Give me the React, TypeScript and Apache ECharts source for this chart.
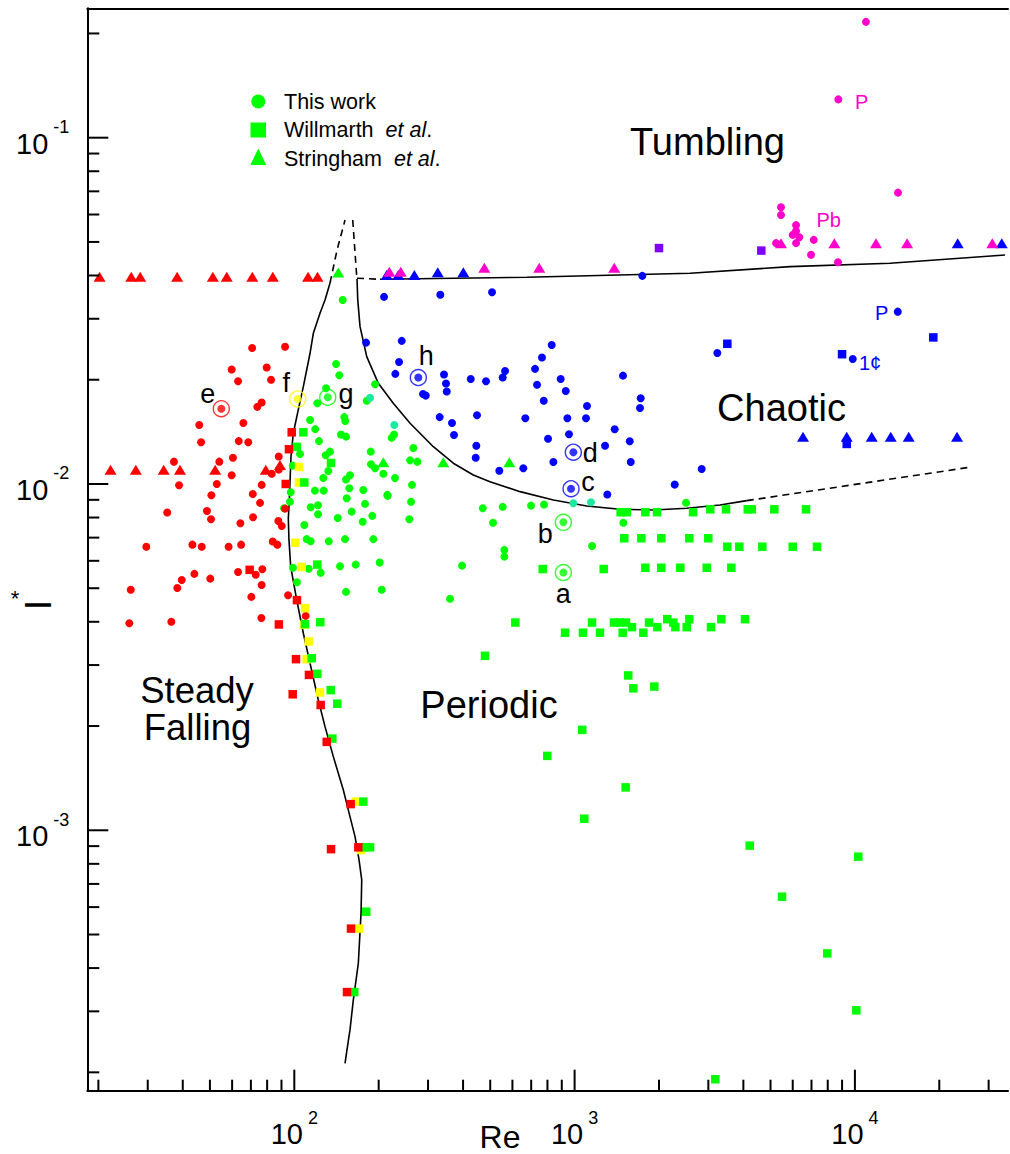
import React, { useEffect, useRef } from 'react';
import * as echarts from 'echarts';

// ---------- axis ranges & ticks ----------
const X_MIN = 18.26;
const X_MAX = 35170;
const Y_MIN = 1.77e-4;
const Y_MAX = 0.2364;

const xMajorTicks = [100, 1000, 10000];
const xMinorTicks = [20, 30, 40, 50, 60, 70, 80, 90, 200, 300, 400, 500, 600, 700, 800, 900,
  2000, 3000, 4000, 5000, 6000, 7000, 8000, 9000, 20000, 30000];
const yMajorTicks = [0.001, 0.01, 0.1];
const yMinorTicks = [2e-4, 3e-4, 4e-4, 5e-4, 6e-4, 7e-4, 8e-4, 9e-4,
  0.002, 0.003, 0.004, 0.005, 0.006, 0.007, 0.008, 0.009,
  0.02, 0.03, 0.04, 0.05, 0.06, 0.07, 0.08, 0.09, 0.2];

// ---------- This work (circles) [Re, I*] ----------
const thisWorkSteady: [number, number][] = [
  [92.7, 0.0249], [79.7, 0.0217], [82.6, 0.02], [76.5, 0.0172], [83.1, 0.0107], [76.5, 0.00994],
  [70.7, 0.0247], [59.8, 0.0214], [63.0, 0.0198], [73.8, 0.0167], [45.8, 0.0148], [65.8, 0.015],
  [46.5, 0.0132], [63.35, 0.0133], [68.5, 0.0132], [60.4, 0.0119], [54.0, 0.0116], [37.2, 0.0116],
  [59.8, 0.0106], [38.8, 0.00992], [52.9, 0.01], [50.6, 0.00928], [71.1, 0.00936], [88.0, 0.011],
  [88.0, 0.012], [75.5, 0.00882], [35.2, 0.00827], [48.8, 0.00836], [50.45, 0.00791], [71.25, 0.00802],
  [64.2, 0.0077], [87.7, 0.00782], [90.2, 0.00756], [92.7, 0.00849], [29.65, 0.00659], [43.3, 0.00668],
  [46.75, 0.00659], [58.3, 0.00659], [64.6, 0.00668], [83.75, 0.00682], [87.0, 0.00668], [63.0, 0.00557],
  [72.85, 0.00547], [76.9, 0.00567], [44.0, 0.0055], [39.67, 0.00528], [50.15, 0.00533], [26.09, 0.00495],
  [38.25, 0.00501], [76.45, 0.00511], [70.26, 0.00472], [95.0, 0.00477], [25.79, 0.00396], [36.41, 0.004],
  [76.3, 0.0041], [109.8, 0.00416],
];
const thisWorkPeriodic: [number, number][] = [
  [140.9, 0.0222], [144.7, 0.0206], [129.8, 0.0189], [120.8, 0.0171], [194.1, 0.0194], [181.3, 0.0174],
  [113.8, 0.0153], [118.8, 0.0144], [150.8, 0.0156], [152, 0.0152], [146.7, 0.0139], [152.9, 0.0137],
  [122.5, 0.0133], [222.6, 0.0136], [226.9, 0.0139], [265.9, 0.0127], [134.1, 0.0124], [129.4, 0.0121],
  [187.3, 0.0124], [258.8, 0.0117], [274.7, 0.0116], [187.8, 0.0114], [194.1, 0.0111], [104.8, 0.0122],
  [98.7, 0.0113], [132.2, 0.0109], [207.8, 0.0107], [228.7, 0.0104], [126.9, 0.0104], [158, 0.0106],
  [152.9, 0.0103], [118.5, 0.00957], [157.1, 0.00972], [263, 0.00994], [214.7, 0.0093], [97.1, 0.00947],
  [148.8, 0.034], [96.5, 0.00889], [91.9, 0.00851], [127.3, 0.00957], [114.4, 0.00857], [121.5, 0.00868],
  [121.5, 0.00818], [142.9, 0.00798], [108.6, 0.00761], [110.7, 0.00693], [114.4, 0.00683], [132.7, 0.00683],
  [98.9, 0.00573], [112.6, 0.00569], [124.2, 0.00554], [102.2, 0.0052], [145.6, 0.00579], [153.8, 0.0091],
  [176.3, 0.00961], [215.4, 0.00924], [260.9, 0.00889], [178.8, 0.00876], [160.2, 0.00832], [175.4, 0.00778],
  [189.8, 0.00809], [257.2, 0.00791], [151.7, 0.00693], [191.4, 0.00693], [165.6, 0.00585], [201.7, 0.00593],
  [152.9, 0.00488], [205, 0.00495], [396.7, 0.00581], [359.4, 0.00466], [470.1, 0.00851], [554, 0.00859],
  [511.7, 0.00773], [699, 0.00866], [778, 0.00872], [561.5, 0.00645], [561.5, 0.00617], [1154, 0.00662],
  [2497, 0.00883], [1492, 0.00773],
];
const thisWorkChaotic: [number, number][] = [
  [209, 0.0347], [331.8, 0.0352], [507.5, 0.0358], [1744, 0.0399], [180.3, 0.0256], [241.7, 0.0259],
  [236.4, 0.0225], [229.3, 0.0208], [342, 0.0207], [347.7, 0.0195], [349.8, 0.0185], [426, 0.0201],
  [287.9, 0.0182], [294.4, 0.018], [330.2, 0.0156], [365.3, 0.015], [371.3, 0.01385], [448.6, 0.0158],
  [446, 0.0129], [443.8, 0.0119], [828.6, 0.0252], [765, 0.0232], [564.7, 0.0212], [554, 0.0203],
  [722.5, 0.0215], [483, 0.0198], [734.5, 0.01935], [892, 0.0201], [930, 0.01856], [776, 0.0174],
  [1488, 0.02055], [3229, 0.0239], [1721, 0.01768], [1711, 0.01658], [1107, 0.0168], [667, 0.01548],
  [942.2, 0.01548], [1098, 0.01548], [1390, 0.01439], [804, 0.01351], [955, 0.01392], [1284, 0.0129],
  [1573, 0.01328], [840, 0.01158], [1586, 0.01158], [656, 0.0111], [538.8, 0.01092], [1308, 0.00932],
  [2276, 0.00996], [2841, 0.01105], [14220, 0.03145], [9824, 0.02296],
];
const thisWorkTumbling: [number, number][] = [
  [10950, 0.216], [8727, 0.129], [14250, 0.0694], [5450, 0.063], [5450, 0.0598], [6166, 0.0559],
  [6166, 0.0538], [6000, 0.0524], [6335, 0.0516], [6166, 0.0496], [7131, 0.0507], [5232, 0.0496],
  [6974, 0.0459], [8705, 0.0437],
];
const thisWorkMixed: [number, number][] = [
  [989.7, 0.0088], [1144, 0.00886], [186.3, 0.01775], [227.4, 0.01481],
];

// ---------- Willmarth et al. (squares) ----------
const willmarthSteady: [number, number][] = [
  [97.9, 0.0141], [95.7, 0.0126], [93.2, 0.01], [69.3, 0.00565], [102.2, 0.00462], [88.1, 0.00393],
  [101.4, 0.00312], [112.8, 0.00281], [98.7, 0.00247], [124.2, 0.0023], [130.5, 0.0018], [158.9, 0.00119],
  [135.2, 0.000882], [169.2, 0.000893], [159.3, 0.00052], [154.2, 0.000341],
];
const willmarthTransition: [number, number][] = [
  [103.9, 0.0112], [103.9, 0.0101], [100.8, 0.00677], [106.3, 0.00576], [109.2, 0.00438], [108.3, 0.00392],
  [112.6, 0.00351], [110.7, 0.00312], [123.5, 0.0025], [166, 0.00121], [173, 0.000877], [170.2, 0.00052],
];
const willmarthPeriodic: [number, number][] = [
  [107.7, 0.0141], [102, 0.0128], [135.2, 0.0115], [108.6, 0.0101], [120.8, 0.00585], [109.2, 0.00394],
  [123.8, 0.00399], [115.4, 0.00314], [120.8, 0.00283], [134.9, 0.00254], [142.3, 0.00232], [136.7, 0.00184],
  [176.3, 0.00121], [178.8, 0.000893], [186.3, 0.000893], [180.6, 0.000582], [163.7, 0.000341],
  [769.6, 0.00568], [1270, 0.00568], [614.6, 0.00398], [924.5, 0.00372], [1071, 0.00372], [1154, 0.00398],
  [1232, 0.00372], [479, 0.00319],
  [1460, 0.00829], [1535, 0.00829], [1788, 0.00829], [1968, 0.00829], [2646, 0.00829],
  [3049, 0.00845], [3469, 0.00845], [4147, 0.00845], [4284, 0.00845], [5159, 0.00845], [6692, 0.00845],
  [1504, 0.00697], [1730, 0.00697], [2038, 0.00697], [2566, 0.00697], [2999, 0.00697],
  [3506, 0.00659], [3869, 0.00659], [4675, 0.00659], [6000, 0.00659], [7325, 0.00659],
  [1788, 0.00573], [2038, 0.00573], [2383, 0.00573], [2960, 0.00573], [3624, 0.00573],
  [1382, 0.00398], [1452, 0.00398], [1525, 0.00398], [1602, 0.00386], [1484, 0.00372], [1759, 0.00372],
  [1843, 0.00398], [1973, 0.00386], [2141, 0.00407], [2250, 0.00398], [2288, 0.00386], [2512, 0.00386],
  [2566, 0.00407], [3066, 0.00386], [3338, 0.00407], [4055, 0.00407],
  [1554, 0.0028], [1620, 0.00257], [1925, 0.0026], [1065, 0.00195], [799, 0.00164], [1521, 0.00133],
  [1083, 0.00108], [4215, 0.000903], [10280, 0.000839], [5495, 0.000643], [7971, 0.000441],
  [10120, 0.000302], [3177, 0.000191],
];
const willmarthChaotic: [number, number][] = [
  [3506, 0.0254], [19040, 0.0265], [8999, 0.0237], [9350, 0.01305],
];
const willmarthTumbling: [number, number][] = [[2000, 0.048], [4636, 0.0472]];

// ---------- Stringham et al. (triangles) ----------
const stringhamSteady: [number, number][] = [
  [20.2, 0.0397], [26.2, 0.0397], [28.2, 0.0397], [38.2, 0.0397], [51.2, 0.0397], [57.4, 0.0397],
  [70.8, 0.0397], [83.8, 0.0397], [112, 0.0397], [121, 0.0397],
  [22.1, 0.011], [27.2, 0.011], [34.2, 0.011], [39.1, 0.011], [52.2, 0.011], [79.1, 0.011], [88.9, 0.01135],
];
const stringhamPeriodic: [number, number][] = [
  [143.5, 0.0408], [207.8, 0.01155], [340, 0.01155], [585, 0.01155],
];
const stringhamChaotic: [number, number][] = [
  [213.6, 0.0401], [235, 0.0401], [268.1, 0.0401], [324.9, 0.0409], [400.9, 0.0409],
  [23270, 0.0496], [33410, 0.0496],
  [6530, 0.0137], [9350, 0.0137], [11480, 0.0137], [13420, 0.0137], [15560, 0.0137], [23140, 0.0137],
];
const stringhamTumbling: [number, number][] = [
  [218.3, 0.041], [239.7, 0.041], [476.4, 0.0421], [748, 0.0421], [1385, 0.0421],
  [5450, 0.0496], [8445, 0.0496], [11890, 0.0496], [15350, 0.0496], [30920, 0.0496],
];

// ---------- highlighted cases a-h ----------
const ringTags = ['a', 'b', 'c', 'd', 'e', 'f', 'g', 'h'];
const ringPoints: [number, number][] = [
  [911.8, 0.00555], [911.8, 0.00775], [971, 0.00969], [989.7, 0.01235],
  [54.9, 0.0165], [102.8, 0.0176], [131.6, 0.0178], [277, 0.0203],
];
const ringRegimes = ['periodic', 'periodic', 'chaotic', 'chaotic', 'steady', 'transition', 'periodic', 'chaotic'];

// ---------- coin annotations ----------
const annotationTags = ['P', 'Pb', 'P', '1¢'];
const annotationPoints: [number, number][] = [[8727, 0.129], [7131, 0.0507], [14220, 0.03145], [9824, 0.02296]];
const annotationRegimes = ['tumbling', 'tumbling', 'chaotic', 'chaotic'];

// ---------- regime boundaries ----------
const steadyBoundary: [number, number][] = [
  [151.7, 0.0002124], [153.8, 0.0002295], [158.0, 0.0002651], [162.4, 0.0003236], [169.2, 0.000413],
  [173, 0.0005759], [174.0, 0.0007189], [170.2, 0.000821], [164.7, 0.0009585], [158, 0.001095],
  [149.6, 0.001307], [137.8, 0.001632], [128.7, 0.001992], [121.8, 0.002378], [113.8, 0.003036],
  [107.7, 0.003706], [102, 0.004625], [97.1, 0.00577], [95.7, 0.006894], [95.2, 0.007964],
  [96.0, 0.008993], [97.3, 0.01199], [99.2, 0.01401], [103.3, 0.01636], [107.7, 0.0191],
  [113.8, 0.02385], [116.9, 0.02724], [123.5, 0.03112], [128.7, 0.034], [134.1, 0.03806],
];
const steadyBoundaryDashed: [number, number][] = [[134.1, 0.03806], [142.1, 0.04741], [151.7, 0.05785]];
const chaoticBoundaryTop: [number, number][] = [[161.6, 0.05785], [167, 0.0397]];
const chaoticBoundary: [number, number][] = [
  [167.4, 0.0391], [168.4, 0.034], [171.6, 0.02847], [181.3, 0.02332], [199.4, 0.01953], [225.5, 0.01711],
  [258.8, 0.01497], [313.3, 0.01281], [369.2, 0.01148], [435.2, 0.01062], [499, 0.01015], [638.8, 0.009504],
  [840, 0.008993], [1104, 0.008642], [1452, 0.008453], [1909, 0.008414], [2512, 0.008511], [3302, 0.0087],
  [4113, 0.008951],
];
const chaoticBoundaryDashed: [number, number][] = [[4113, 0.008951], [25180, 0.01115]];
const tumblingBoundaryDashed: [number, number][] = [[167.4, 0.03927], [202.2, 0.03901]];
const tumblingBoundary: [number, number][] = [
  [202.2, 0.03901], [675, 0.03954], [2581, 0.0406], [5869, 0.04242], [13340, 0.04339], [34320, 0.04585],
];

// ---------- styles ----------
const FONT = '"Liberation Sans", Arial, Helvetica, sans-serif';
const COLORS: Record<string, string> = {
  steady: '#ff0000',
  transition: '#ffff00',
  periodic: '#00ff00',
  chaotic: '#0000ff',
  tumbling: '#ff00cc',
  tumblingW: '#7f00ff',
  mixed: '#1ee8a0',
};
const RING_LABEL_OFFSET: Record<string, [number, number]> = {
  a: [0, 21], b: [-18, 11.5], c: [17, -6.7], d: [17, 1], e: [-13.5, -14.6], f: [-11.5, -15.6], g: [18.3, -3.3], h: [8, -21.3],
};
const ANNOTATION_OFFSETS: [number, number][] = [[23.4, 2.4], [15, -20], [-16, 1], [17.3, 3.7]];

const LABEL_RICH = {
  b: { fontSize: 29, lineHeight: 29, fontFamily: FONT, color: '#000', verticalAlign: 'bottom' },
  s: { fontSize: 18, lineHeight: 18, fontFamily: FONT, color: '#000', verticalAlign: 'bottom', padding: [0, 0, 22, 0] },
};

function powerLabel(v: number): string {
  const e = Math.log10(v);
  const r = Math.round(e);
  return Math.abs(e - r) < 1e-6 ? `{b|10}{s| ${r}}` : '';
}

function scatter(name: string, data: [number, number][], symbol: string, size: any, color: string, z = 3) {
  return {
    name, type: 'scatter', data, symbol, symbolSize: size, z,
    itemStyle: { color, opacity: 1 },
    emphasis: { disabled: true },
    silent: true,
  };
}

function line(data: [number, number][], dashed: boolean) {
  return {
    type: 'line', data, showSymbol: false, symbol: 'none', z: 2, silent: true,
    lineStyle: { color: '#000', width: 1.6, type: dashed ? [7, 5] : 'solid' },
  };
}

function ticks(values: number[], dir: 'x' | 'y', len: number) {
  return {
    type: 'custom', coordinateSystem: 'cartesian2d', clip: false, silent: true, z: 5,
    data: values.map((v) => (dir === 'x' ? [v, Y_MIN] : [X_MIN, v])),
    renderItem: (_p: any, api: any) => {
      const pt = api.coord([api.value(0), api.value(1)]);
      return {
        type: 'line',
        shape: dir === 'x'
          ? { x1: pt[0], y1: pt[1], x2: pt[0], y2: pt[1] - len }
          : { x1: pt[0], y1: pt[1], x2: pt[0] + len, y2: pt[1] },
        style: { stroke: '#000', lineWidth: 2 },
      };
    },
  };
}

const REGION_FONT = `38px ${FONT}`;
function regionText(text: string, x: number, y: number, font = REGION_FONT) {
  return {
    type: 'text', x, y,
    style: { text, font, fill: '#000', align: 'center', verticalAlign: 'middle', textAlign: 'center', textVerticalAlign: 'middle' },
  };
}

export default function App() {
  const ref = useRef<HTMLDivElement>(null);
  useEffect(() => {
    if (!ref.current) return;
    const chart = echarts.init(ref.current, undefined, { renderer: 'svg' });
    const circle = 8;
    const square = 8.5;
    const tri = [12, 10];
    const option: any = {
      animation: false,
      backgroundColor: '#ffffff',
      grid: { left: 87.3, top: 8.3, right: 2, bottom: 63.3, containLabel: false, outerBoundsMode: 'none' },
      xAxis: [
        {
          type: 'log', logBase: 10, min: X_MIN, max: X_MAX, position: 'bottom',
          axisLine: { show: true, onZero: false, lineStyle: { color: '#000', width: 2 } },
          axisTick: { show: false }, minorTick: { show: false }, splitLine: { show: false },
          axisLabel: { show: true, margin: 29, color: '#000', formatter: powerLabel, rich: LABEL_RICH, interval: 0 },
        },
        {
          type: 'log', logBase: 10, min: X_MIN, max: X_MAX, position: 'top',
          axisLine: { show: true, onZero: false, lineStyle: { color: '#000', width: 2 } },
          axisTick: { show: false }, axisLabel: { show: false }, splitLine: { show: false },
        },
      ],
      yAxis: {
        type: 'log', logBase: 10, min: Y_MIN, max: Y_MAX,
        axisLine: { show: true, onZero: false, lineStyle: { color: '#000', width: 2 } },
        axisTick: { show: false }, minorTick: { show: false }, splitLine: { show: false },
        axisLabel: { show: true, margin: 18, color: '#000', formatter: powerLabel, rich: LABEL_RICH, interval: 0, padding: [12, 0, 0, 0] },
      },
      series: [
        line(steadyBoundary, false),
        line(steadyBoundaryDashed, true),
        line(chaoticBoundaryTop, true),
        line(chaoticBoundary, false),
        line(chaoticBoundaryDashed, true),
        line(tumblingBoundaryDashed, true),
        line(tumblingBoundary, false),
        scatter('This work', thisWorkPeriodic, 'circle', circle, COLORS.periodic),
        scatter('This work steady', thisWorkSteady, 'circle', circle, COLORS.steady),
        scatter('This work chaotic', thisWorkChaotic, 'circle', circle, COLORS.chaotic),
        scatter('This work tumbling', thisWorkTumbling, 'circle', circle, COLORS.tumbling),
        scatter('This work mixed', thisWorkMixed, 'circle', circle, COLORS.mixed),
        scatter('Stringham steady', stringhamSteady, 'triangle', tri, COLORS.steady),
        scatter('Stringham et al.', stringhamPeriodic, 'triangle', tri, COLORS.periodic),
        scatter('Stringham chaotic', stringhamChaotic, 'triangle', tri, COLORS.chaotic),
        scatter('Stringham tumbling', stringhamTumbling, 'triangle', tri, COLORS.tumbling),
        scatter('Willmarth transition', willmarthTransition, 'rect', square, COLORS.transition),
        scatter('Willmarth et al.', willmarthPeriodic, 'rect', square, COLORS.periodic),
        scatter('Willmarth steady', willmarthSteady, 'rect', square, COLORS.steady),
        scatter('Willmarth chaotic', willmarthChaotic, 'rect', square, COLORS.chaotic),
        scatter('Willmarth tumbling', willmarthTumbling, 'rect', square, COLORS.tumblingW),
        {
          name: 'rings', type: 'scatter', symbol: 'circle', symbolSize: 16, z: 4, silent: true,
          data: ringPoints.map((p, i) => ({
            value: p, name: ringTags[i],
            itemStyle: { color: 'rgba(0,0,0,0)', borderColor: COLORS[ringRegimes[i]], borderWidth: 1.4 },
            label: { offset: RING_LABEL_OFFSET[ringTags[i]] },
          })),
          label: {
            show: true, position: 'inside', formatter: '{b}', color: '#000', opacity: 1, fontSize: 27,
            fontFamily: FONT, align: 'center', verticalAlign: 'middle', textBorderWidth: 0, textBorderColor: 'transparent',
          },
        },
        {
          name: 'ring dots', type: 'scatter', symbol: 'circle', symbolSize: circle, z: 4, silent: true,
          data: ringPoints.map((p, i) => ({ value: p, itemStyle: { color: COLORS[ringRegimes[i]] } })),
        },
        {
          name: 'annotations', type: 'scatter', symbol: 'circle', symbolSize: 1, z: 4, silent: true,
          data: annotationPoints.map((p, i) => ({
            value: p, name: annotationTags[i],
            itemStyle: { color: 'rgba(0,0,0,0)' },
            label: { offset: ANNOTATION_OFFSETS[i], color: COLORS[annotationRegimes[i]] },
          })),
          label: {
            show: true, position: 'inside', formatter: '{b}', fontSize: 20, fontFamily: FONT, opacity: 1,
            align: 'center', verticalAlign: 'middle', textBorderWidth: 0, textBorderColor: 'transparent',
          },
        },
        ticks(xMajorTicks, 'x', 21),
        ticks(xMinorTicks, 'x', 11),
        ticks(yMajorTicks, 'y', 21),
        ticks(yMinorTicks, 'y', 12),
      ],
      graphic: [
        regionText('Tumbling', 707.5, 141.7),
        regionText('Chaotic', 781.5, 408.3),
        regionText('Periodic', 489, 705),
        regionText('Steady', 197, 690, `36.5px ${FONT}`),
        regionText('Falling', 197.5, 727.2, `36.5px ${FONT}`),
        // legend
        { type: 'circle', shape: { cx: 258.3, cy: 101.5, r: 7 }, style: { fill: COLORS.periodic } },
        { type: 'rect', shape: { x: 250.5, y: 122.5, width: 15.5, height: 15 }, style: { fill: COLORS.periodic } },
        { type: 'polygon', shape: { points: [[258.3, 148.5], [266.3, 165], [250.3, 165]] }, style: { fill: COLORS.periodic } },
        { type: 'text', x: 284, y: 101.5, style: { text: 'This work', font: `21.5px ${FONT}`, fill: '#000', align: 'left', verticalAlign: 'middle', textAlign: 'left', textVerticalAlign: 'middle' } },
        {
          type: 'text', x: 284, y: 129.5,
          style: {
            text: 'Willmarth  {i|et al}.', font: `21.5px ${FONT}`, fill: '#000', align: 'left', verticalAlign: 'middle', textAlign: 'left', textVerticalAlign: 'middle',
            rich: { i: { fontStyle: 'italic', fontSize: 21.5, fontFamily: FONT, fill: '#000' } },
          },
        },
        {
          type: 'text', x: 284, y: 159,
          style: {
            text: 'Stringham  {i|et al}.', font: `21.5px ${FONT}`, fill: '#000', align: 'left', verticalAlign: 'middle', textAlign: 'left', textVerticalAlign: 'middle',
            rich: { i: { fontStyle: 'italic', fontSize: 21.5, fontFamily: FONT, fill: '#000' } },
          },
        },
        // axis names
        { type: 'text', x: 500, y: 1137, style: { text: 'Re', font: `32px ${FONT}`, fill: '#000', align: 'center', verticalAlign: 'middle', textAlign: 'center', textVerticalAlign: 'middle' } },
        { type: 'text', x: 38.5, y: 605, rotation: Math.PI / 2, style: { text: 'I', font: `36px ${FONT}`, fill: '#000', align: 'center', verticalAlign: 'middle', textAlign: 'center', textVerticalAlign: 'middle' } },
        { type: 'text', x: 15, y: 598, style: { text: '*', font: `22px ${FONT}`, fill: '#000', align: 'center', verticalAlign: 'middle', textAlign: 'center', textVerticalAlign: 'middle' } },
      ],
    };
    chart.setOption(option);
    return () => chart.dispose();
  }, []);
  return (
    <div
      ref={ref}
      style={{ position: 'absolute', left: 0, top: 0, width: 1010, height: 1154, background: '#fff' }}
    />
  );
}
